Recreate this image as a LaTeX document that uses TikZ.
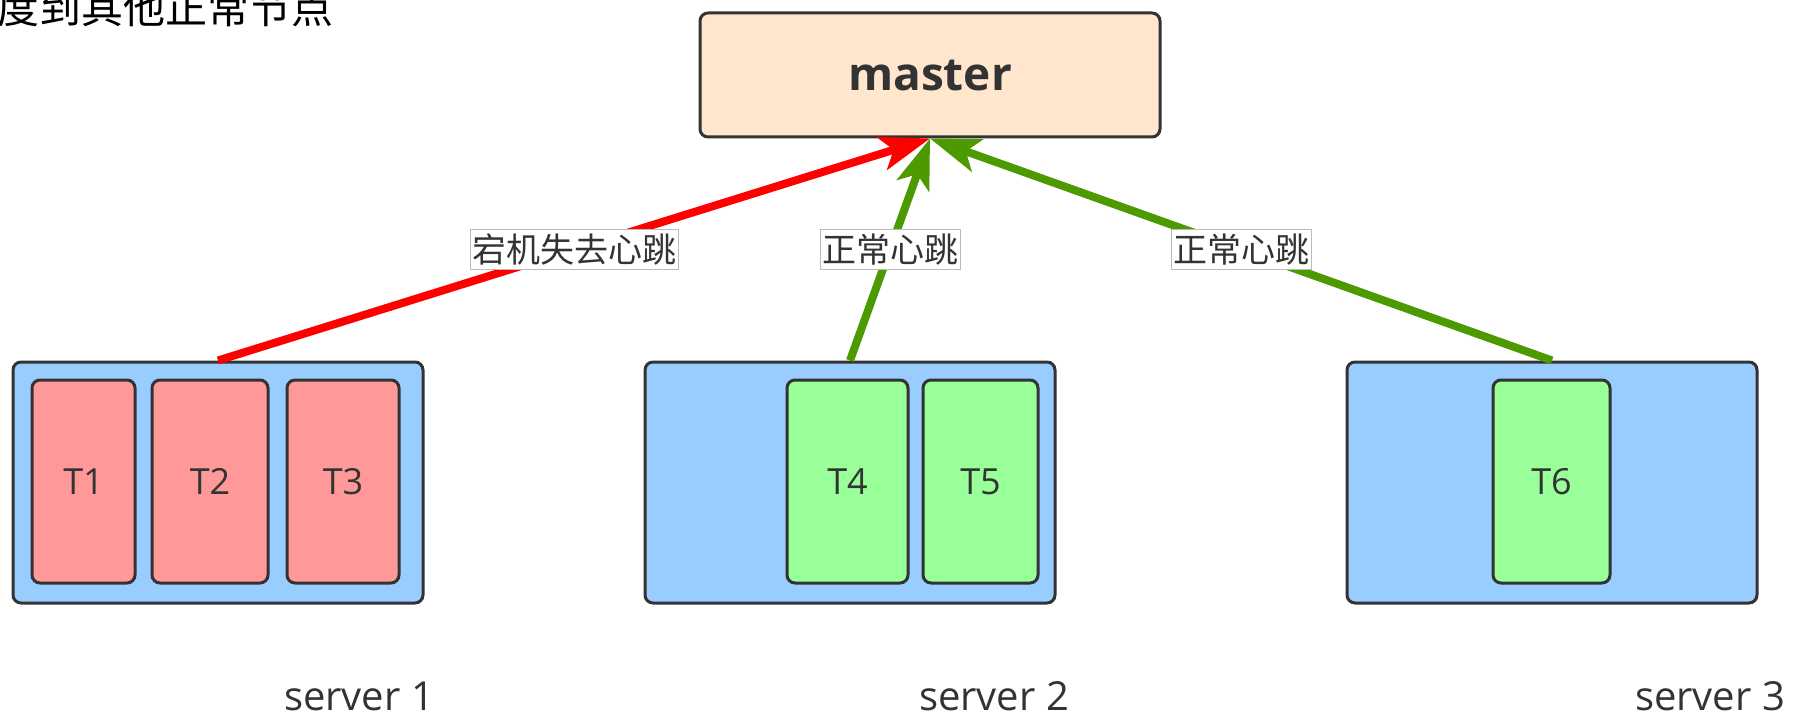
\documentclass[tikz,border=0pt]{standalone}
\usepackage{fontspec}
\setmainfont{Open Sans}
\newfontfamily\cjk{Noto Sans CJK SC}
\usetikzlibrary{arrows.meta}
\definecolor{edge}{HTML}{333333}
\definecolor{ink}{HTML}{333333}
\definecolor{peach}{HTML}{FFE6CC}
\definecolor{serverblue}{HTML}{99CCFF}
\definecolor{taskred}{HTML}{FF9999}
\definecolor{taskgreen}{HTML}{99FF99}
\definecolor{beatgreen}{HTML}{4D9900}
\definecolor{beatred}{HTML}{FF0000}
\definecolor{labelgray}{HTML}{BBBBBB}
\begin{document}
\begin{tikzpicture}[x=0.5pt,y=-0.5pt,
	box/.style={draw=edge,line width=1.5pt,rounded corners=4pt,inner sep=0pt,text=ink},
	masterbox/.style={box,fill=peach,minimum width=230pt,minimum height=62pt,font=\fontsize{23}{27}\selectfont\bfseries},
	serverbox/.style={box,fill=serverblue,minimum width=205pt,minimum height=120.5pt},
	task/.style={box,minimum height=101.5pt,font=\fontsize{18}{22}\selectfont},
	beat/.style={-{Stealth[length=25pt,width=17pt,inset=6pt]},line width=4pt},
	beatlabel/.style={midway,fill=white,draw=labelgray,line width=0.5pt,inner xsep=1pt,inner ysep=2.2pt,text=ink,font=\cjk\fontsize{17}{20}\selectfont},
	serverlabel/.style={anchor=base,inner sep=0pt,text depth=0pt,text=ink,font=\fontsize{20}{24}\selectfont}]
		\useasboundingbox (0,0) rectangle (1795,717);
		\node[anchor=base west,inner sep=0pt,font=\cjk\fontsize{21}{24}\selectfont] (note) at (-3,24) {度到其他正常节点};
		\node[masterbox] (master) at (930,75) {master};
		\node[serverbox] (server1) at (218,482.5) {};
		\node[serverbox] (server2) at (850,482.5) {};
		\node[serverbox] (server3) at (1552,482.5) {};
		\foreach \tname/\cx/\w/\tc in {T1/83.5/51.5pt/taskred,T2/210/58pt/taskred,T3/343/56pt/taskred,T4/847.5/60.5pt/taskgreen,T5/980.5/57.5pt/taskgreen,T6/1551.5/58.5pt/taskgreen}
			\node[task,fill=\tc,minimum width=\w] (\tname) at (\cx,481.5) {\tname};
		\node[serverlabel] (label1) at (359,710) {server 1};
		\node[serverlabel] (label2) at (994,710) {server 2};
		\node[serverlabel] (label3) at (1710,710) {server 3};
		\draw[beat,beatred] (server1.north) -- (master.south) node[beatlabel] {宕机失去心跳};
		\draw[beat,beatgreen] (server2.north) -- (master.south) node[beatlabel] {正常心跳};
		\draw[beat,beatgreen] (server3.north) -- (master.south) node[beatlabel] {正常心跳};
\end{tikzpicture}
\end{document}
